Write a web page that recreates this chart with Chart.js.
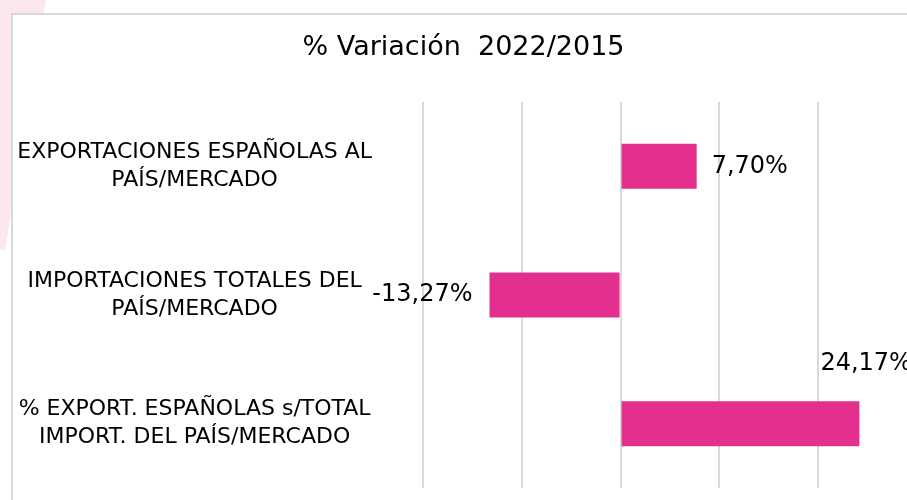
<!DOCTYPE html>
<html>
<head>
<meta charset="utf-8">
<script src="https://cdn.jsdelivr.net/npm/chart.js@4/dist/chart.umd.min.js"></script>
<style>
  html, body { margin: 0; padding: 0; width: 907px; height: 500px; overflow: hidden; background: #ffffff; }
  #deco { position: absolute; left: 0; top: 0; width: 50px; height: 260px; background: #fce6ef;
          clip-path: polygon(0 0, 46px 0, 5px 250px, 0 250px); }
  #frame { position: absolute; left: 11px; top: 13px; width: 1000px; height: 600px; background: #ffffff;
           border-left: 2px solid #d9d9d9; border-top: 2px solid #d9d9d9; }
  #wrap { position: absolute; left: 0; top: 0; width: 920px; height: 500px; }
</style>
</head>
<body>
<div id="deco"></div>
<div id="frame"></div>
<div id="wrap"><canvas id="c" width="920" height="500"></canvas></div>
<script>
// ---- data ----
const categories = [
  ["EXPORTACIONES ESPAÑOLAS AL", "PAÍS/MERCADO"],
  ["IMPORTACIONES TOTALES DEL", "PAÍS/MERCADO"],
  ["% EXPORT. ESPAÑOLAS s/TOTAL", "IMPORT. DEL PAÍS/MERCADO"]
];
const variationValues = [7.70, -13.27, 24.17];
const titleText = "% Variación  2022/2015";
const axisMin = -20;
const axisMax = 30;
const axisStep = 10;

// ---- styling ----
const FONT = "'DejaVu Sans', sans-serif";
const BAR_COLOR = "#E3308F";
const GRID_COLOR = "#d9d9d9";
// label placement relative to the bar end (style only)
const labelPlacement = [
  { dx: 15, dy: 0, align: "left" },
  { dx: -17, dy: 0, align: "right" },
  { dx: -39, dy: -60, align: "left" }
];

function fmt(v) {
  return v.toFixed(2).replace('.', ',') + '%';
}

const valueLabels = {
  id: 'valueLabels',
  afterDatasetsDraw(chart) {
    const ctx = chart.ctx;
    const meta = chart.getDatasetMeta(0);
    ctx.save();
    ctx.font = "24px " + FONT;
    ctx.fillStyle = "#000000";
    ctx.textBaseline = "middle";
    meta.data.forEach((el, i) => {
      const v = chart.data.datasets[0].data[i];
      const p = labelPlacement[i];
      ctx.textAlign = p.align;
      ctx.fillText(fmt(v), el.x + p.dx, el.y + p.dy);
    });
    ctx.restore();
  }
};

new Chart(document.getElementById('c'), {
  type: 'bar',
  data: {
    labels: categories,
    datasets: [{
      data: variationValues,
      backgroundColor: BAR_COLOR,
      borderWidth: 0,
      barPercentage: 1,
      categoryPercentage: 0.35
    }]
  },
  options: {
    indexAxis: 'y',
    responsive: false,
    animation: false,
    devicePixelRatio: 1,
    layout: { padding: { top: 0, right: 3, bottom: 12, left: 10 } },
    plugins: {
      legend: { display: false },
      tooltip: { enabled: false },
      title: {
        display: true,
        text: titleText,
        color: "#000000",
        font: { family: FONT, size: 27, weight: 'normal', lineHeight: 1.2 },
        padding: { top: 32, bottom: 37.6 }
      }
    },
    scales: {
      x: {
        min: axisMin,
        max: axisMax,
        ticks: { display: false, stepSize: axisStep },
        grid: { color: GRID_COLOR, lineWidth: 2, drawTicks: false },
        border: { display: false },
        afterFit(scale) { scale.height = 0; }
      },
      y: {
        ticks: {
          color: "#000000",
          font: { family: FONT, size: 22, lineHeight: 1.28 },
          crossAlign: 'center',
          padding: 51
        },
        grid: { display: false, drawTicks: false },
        border: { display: false },
        afterFit(scale) {
          scale.width = 413;
          scale.paddingTop = 0;
          scale.paddingBottom = 0;
        }
      }
    }
  },
  plugins: [valueLabels]
});
</script>
</body>
</html>
